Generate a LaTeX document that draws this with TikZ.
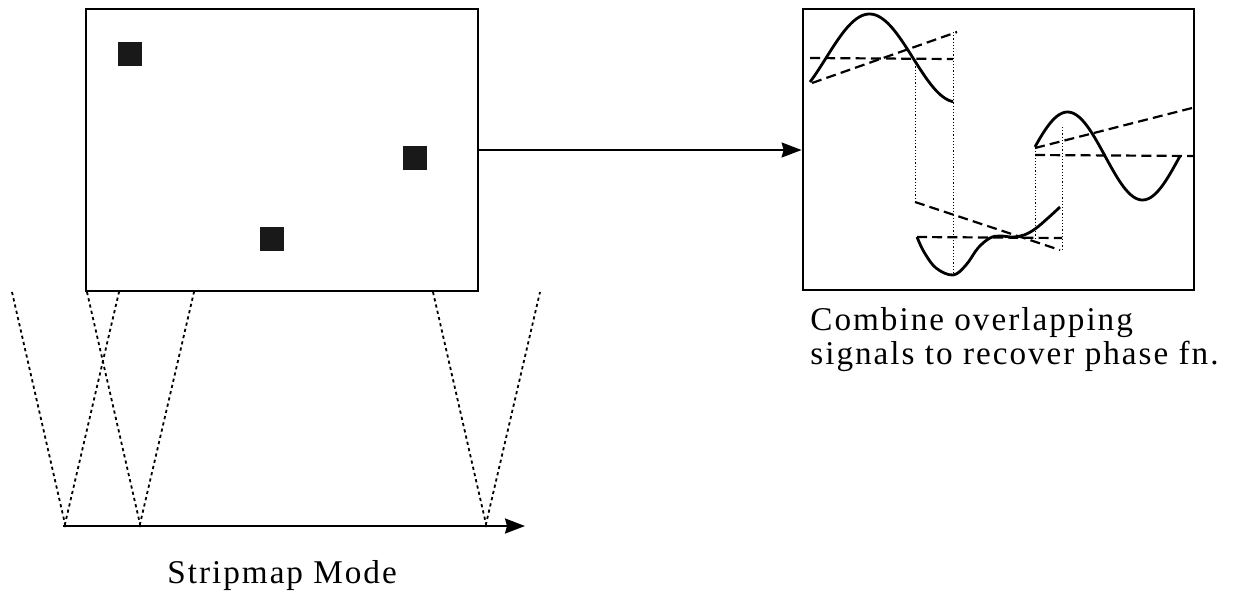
\documentclass[tikz,border=0pt]{standalone}
\usepackage{fontspec}
\setmainfont{Liberation Serif}[LetterSpace=6]
\usetikzlibrary{arrows.meta}

\begin{document}
\begin{tikzpicture}[x=0.5pt,y=-0.5pt,
        panel/.style={rectangle, draw, line width=1.4pt, inner sep=0pt},
        target/.style={rectangle, fill=black!90, minimum size=12pt, inner sep=0pt},
        beam/.style={line width=0.9pt, dash pattern=on 1.6pt off 1.6pt},
        sig/.style={line width=1.4pt, line join=round},
        ref/.style={line width=1.1pt, dash pattern=on 5pt off 2.6pt},
        guide/.style={line width=0.5pt, dash pattern=on 0.6pt off 1pt},
        caption/.style={font=\fontsize{16.6}{17}\selectfont, inner sep=0pt, align=left},
        tip/.style={line width=1pt, -{Stealth[length=10pt,width=7.5pt,inset=1pt]}}
    ]
        \useasboundingbox (0,0) rectangle (1240,596);

        \node[panel, minimum width=196pt, minimum height=141pt] (scene) at (282,150) {};
        \node[target] (tgt1) at (130,54) {};
        \node[target] (tgt2) at (415,158) {};
        \node[target] (tgt3) at (272,239) {};

        \node[panel, minimum width=195.5pt, minimum height=140.5pt] (signal) at (998.5,149.5) {};
        \draw[tip] (scene.east) -- (scene.east -| signal.west);

        % flight track and beams
        \coordinate (track0) at (63,526);
        \coordinate (track1) at (525,526);
        \draw[tip] (track0) -- (track1);
        \coordinate (ant1) at (65,524);
        \coordinate (ant2) at (140,524);
        \coordinate (ant3) at (486,524);
        \foreach \a/\l/\r in {ant1/12/119, ant2/87/194, ant3/433/540}
            \draw[beam] (\l,292) -- (\a) -- (\r,292);

        % phase pieces
        \draw[sig] plot[domain=810:953, samples=60] (\x, {58-44*sin((\x-826)*2.069)});
        \draw[ref] (810,58) -- (953,59);
        \draw[ref] (812,83) -- (957,32);
        \draw[guide] (915,60) -- (915,202);
        \draw[guide] (953,32) -- (953,275);

        \draw[sig] plot[smooth, tension=0.6] coordinates {(917,237) (924,252) (936,268) (953,275) (966,265) (978,248) (990,238) (1000,236) (1013,237) (1024,235) (1035,229) (1048,218) (1060,207)};
        \draw[ref] (915,202) -- (1060,250);
        \draw[ref] (917,237) -- (1062,238);
        \draw[guide] (1035,148) -- (1035,238);
        \draw[guide] (1062,127) -- (1062,250);

        \draw[sig] plot[domain=1035:1180, samples=60] (\x, {156+44*sin((\x-1105)*2.4)});
        \draw[ref] (1035,148) -- (1192,108);
        \draw[ref] (1035,155) -- (1194,156);

        \node[caption, anchor=base west] (stripcap) at (167,583) {Stripmap Mode};
        \node[caption, anchor=north west] (combcap) at (810,307) {Combine overlapping\\signals to recover phase fn.};
    \end{tikzpicture}
\end{document}
